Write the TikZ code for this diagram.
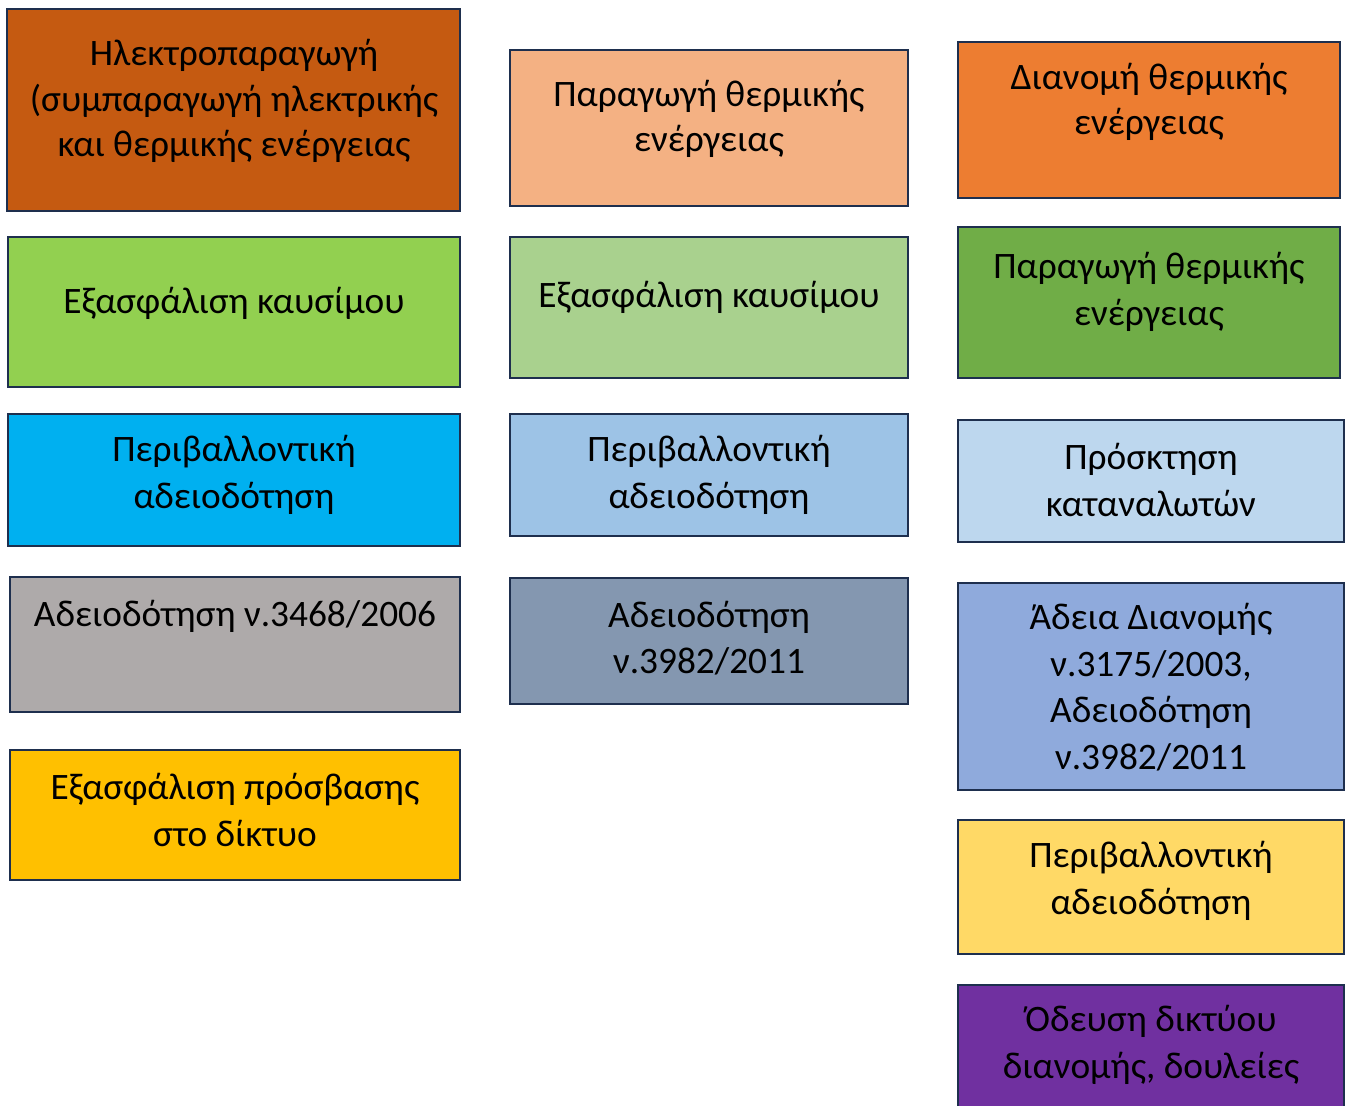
\documentclass[tikz,border=0pt]{standalone}
\usepackage{fontspec}
\setmainfont{Carlito}
\definecolor{edge}{HTML}{1E2F4E}
\definecolor{cA}{HTML}{C55A11}
\definecolor{cB}{HTML}{92D050}
\definecolor{cC}{HTML}{00B0F0}
\definecolor{cD}{HTML}{AEAAAA}
\definecolor{cE}{HTML}{FFC000}
\definecolor{cF}{HTML}{F4B183}
\definecolor{cG}{HTML}{A9D18E}
\definecolor{cH}{HTML}{9DC3E6}
\definecolor{cI}{HTML}{8497B0}
\definecolor{cJ}{HTML}{ED7D31}
\definecolor{cK}{HTML}{70AD47}
\definecolor{cL}{HTML}{BDD7EE}
\definecolor{cM}{HTML}{8FAADC}
\definecolor{cN}{HTML}{FFD966}
\definecolor{cO}{HTML}{7030A0}
\tikzset{
  panel/.style={draw=edge, line width=1.8pt, rectangle},
  caption/.style={align=center, inner sep=0pt, text=black,
    font=\fontsize{28pt}{35pt}\selectfont},
}
\begin{document}
\begin{tikzpicture}[x=0.75pt, y=-0.75pt]
\useasboundingbox (0,0) rectangle (1347,1106);
% column 1
\draw[panel, fill=cA] (7,9) rectangle (460,211);
\draw[panel, fill=cB] (8,237) rectangle (460,387);
\draw[panel, fill=cC] (8,414) rectangle (460,546);
\draw[panel, fill=cD] (10,577) rectangle (460,712);
\draw[panel, fill=cE] (10,750) rectangle (460,880);
\node[caption, font=\fontsize{28pt}{34.2pt}\selectfont] (t11) at (234,101) {Ηλεκτροπαραγωγή\\(συμπαραγωγή ηλεκτρικής\\και θερμικής ενέργειας};
\node[caption] (t12) at (234,303) {Εξασφάλιση καυσίμου};
\node[caption] (t13) at (234,475) {Περιβαλλοντική\\αδειοδότηση};
\node[caption] (t14) at (235,616) {Αδειοδότηση ν.3468/2006};
\node[caption] (t15) at (235,810) {Εξασφάλιση πρόσβασης\\στο δίκτυο};
% column 2
\draw[panel, fill=cF] (510,50) rectangle (908,206);
\draw[panel, fill=cG] (510,237) rectangle (908,378);
\draw[panel, fill=cH] (510,414) rectangle (908,536);
\draw[panel, fill=cI] (510,578) rectangle (908,704);
\node[caption, font=\fontsize{28pt}{34.2pt}\selectfont] (t21) at (709,119) {Παραγωγή θερμικής\\ενέργειας};
\node[caption] (t22) at (709,297) {Εξασφάλιση καυσίμου};
\node[caption] (t23) at (709,475) {Περιβαλλοντική\\αδειοδότηση};
\node[caption] (t24) at (709,638) {Αδειοδότηση\\ν.3982/2011};
% column 3
\draw[panel, fill=cJ] (958,42) rectangle (1340,198);
\draw[panel, fill=cK] (958,227) rectangle (1340,378);
\draw[panel, fill=cL] (958,420) rectangle (1344,542);
\draw[panel, fill=cM] (958,583) rectangle (1344,790);
\draw[panel, fill=cN] (958,820) rectangle (1344,954);
\draw[panel, fill=cO] (958,985) rectangle (1344,1130);
\node[caption, font=\fontsize{28pt}{34.2pt}\selectfont] (t31) at (1149,102) {Διανομή θερμικής\\ενέργειας};
\node[caption] (t32) at (1149,292) {Παραγωγή θερμικής\\ενέργειας};
\node[caption] (t33) at (1151,480) {Πρόσκτηση\\καταναλωτών};
\node[caption] (t34) at (1151,687) {Άδεια Διανομής\\ν.3175/2003,\\Αδειοδότηση\\ν.3982/2011};
\node[caption] (t35) at (1151,881) {Περιβαλλοντική\\αδειοδότηση};
\node[caption] (t36) at (1151,1045) {Όδευση δικτύου\\διανομής, δουλείες};
\end{tikzpicture}
\end{document}
